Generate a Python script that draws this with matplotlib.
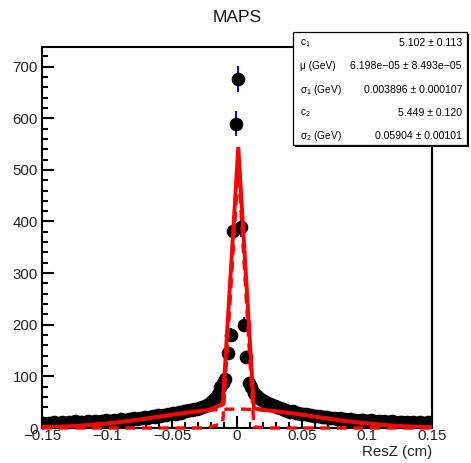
import numpy as np
import matplotlib
matplotlib.use("Agg")
from matplotlib import pyplot as plt
from matplotlib.patches import Rectangle
from matplotlib.ticker import MultipleLocator

plt.rcParams['font.family'] = ['Liberation Sans', 'DejaVu Sans']
plt.rcParams['mathtext.default'] = 'regular'

# ResZ histogram: 150 bins of 0.002 cm between -0.15 and 0.15
bin_edges = np.linspace(-0.15, 0.15, 151)

counts_left = [
    9, 7, 10, 8, 11, 9, 8, 12, 10, 9, 11, 10, 13, 9, 12,
    11, 10, 13, 12, 11, 14, 12, 13, 11, 15, 13, 14, 16, 13, 15,
    17, 15, 16, 18, 17, 19, 18, 20, 19, 21, 20, 22, 24, 22, 25,
    24, 26, 25, 28, 27, 29, 28, 31, 30, 33, 32, 35, 34, 37, 36,
    39, 40, 42, 45, 49, 53, 58, 66, 80, 87, 95, 145, 180, 382, 589,
]
counts_right = [
    676, 390, 200, 138, 88, 80, 68, 62, 58, 55, 52, 49, 47, 45, 42,
    40, 38, 36, 35, 33, 31, 32, 30, 29, 28, 27, 28, 25, 26, 24,
    23, 24, 22, 21, 22, 20, 19, 20, 18, 19, 17, 18, 16, 17, 15,
    16, 14, 15, 16, 14, 13, 15, 13, 12, 14, 12, 13, 11, 12, 13,
    11, 10, 12, 11, 10, 12, 9, 11, 10, 9, 11, 10, 9, 11, 10,
]

# double gaussian fit result (c = area, so peak = c / (sqrt(2 pi) sigma))
c1, mu, sigma1 = 5.102, 6.198e-05, 0.003896
c2, sigma2 = 5.449, 0.05904

stat_names = ['c$_{1}$', 'μ (GeV)', 'σ$_{1}$ (GeV)', 'c$_{2}$', 'σ$_{2}$ (GeV)']
stat_values = ['5.102 ± 0.113', '6.198e−05 ± 8.493e−05', '0.003896 ± 0.000107',
               '5.449 ± 0.120', '0.05904 ± 0.00101']


def gaus(x, c, m, s):
    return c / (np.sqrt(2 * np.pi) * s) * np.exp(-0.5 * ((x - m) / s) ** 2)


counts = np.array(counts_left + counts_right, dtype=float)
centers = 0.5 * (bin_edges[:-1] + bin_edges[1:])
errors = np.sqrt(counts)

# function is drawn with a coarse step, like the TF1 on the canvas
x_fit = np.concatenate(([-0.15], -0.143 + 0.012 * np.arange(25), [0.15]))
y_narrow = gaus(x_fit, c1, mu, sigma1)
y_broad = gaus(x_fit, c2, mu, sigma2)
y_total = y_narrow + y_broad

W, H = 471, 463
fig = plt.figure(figsize=(W / 100, H / 100), dpi=100)
ax = fig.add_axes([42 / W, 1 - 428 / H, 390 / W, 381 / H])

ax.errorbar(centers, counts, yerr=errors, fmt='none', ecolor='#1515a0',
            elinewidth=1.5, capsize=0, zorder=2)
ax.plot(centers, counts, 'o', color='black', markersize=8.8, zorder=3)

red = '#ff0000'
ax.plot(x_fit, y_narrow, color=red, lw=2.4, dashes=(3, 2), zorder=4, clip_on=False)
ax.plot(x_fit, y_broad, color=red, lw=2.4, dashes=(3, 2), zorder=4, clip_on=False)
ax.plot(x_fit, y_total, color=red, lw=2.8, zorder=5, solid_joinstyle='miter')

ax.set_xlim(-0.15, 0.15)
ax.set_ylim(0, 738)

ax.xaxis.set_major_locator(MultipleLocator(0.05))
ax.xaxis.set_minor_locator(MultipleLocator(0.01))
ax.yaxis.set_major_locator(MultipleLocator(100))
ax.yaxis.set_minor_locator(MultipleLocator(20))
ax.set_xticks([-0.15, -0.1, -0.05, 0, 0.05, 0.1, 0.15])
ax.set_xticklabels(['−0.15', '−0.1', '−0.05', '0', '0.05', '0.1', '0.15'])

ax.tick_params(which='both', direction='in', top=False, right=False,
               width=1.5, labelsize=10.8, labelcolor='#222222')
ax.tick_params(axis='y', which='major', length=8.5, pad=3)
ax.tick_params(axis='y', which='minor', length=4.3)
ax.tick_params(axis='x', which='major', length=8.5, pad=1)
ax.tick_params(axis='x', which='minor', length=4.3)
for sp in ax.spines.values():
    sp.set_linewidth(1.5)

fig.text(432 / W, 1 - 452 / H, 'ResZ (cm)', ha='right', va='center',
         fontsize=10.8, color='#222222')
fig.text(237 / W, 1 - 18 / H, 'MAPS', ha='center', va='center',
         fontsize=12.5, color='#111111')

# stats box with a small shadow
bx0, by0, bx1, by1 = 293, 32, 467, 145
fig.patches.append(Rectangle(((bx0 + 2) / W, 1 - (by1 + 2) / H), (bx1 - bx0) / W,
                             (by1 - by0) / H, transform=fig.transFigure,
                             facecolor='black', edgecolor='none', zorder=10))
fig.patches.append(Rectangle((bx0 / W, 1 - by1 / H), (bx1 - bx0) / W, (by1 - by0) / H,
                             transform=fig.transFigure, facecolor='white',
                             edgecolor='black', lw=0.9, zorder=11))
row_y = [43, 66, 90, 113, 136]
for name, val, yy in zip(stat_names, stat_values, row_y):
    fig.text(300 / W, 1 - yy / H, name, ha='left', va='center', fontsize=7.3,
             zorder=12)
    fig.text(462 / W, 1 - yy / H, val, ha='right', va='center', fontsize=7.6,
             zorder=12)

fig.savefig('out.png', dpi=100)
